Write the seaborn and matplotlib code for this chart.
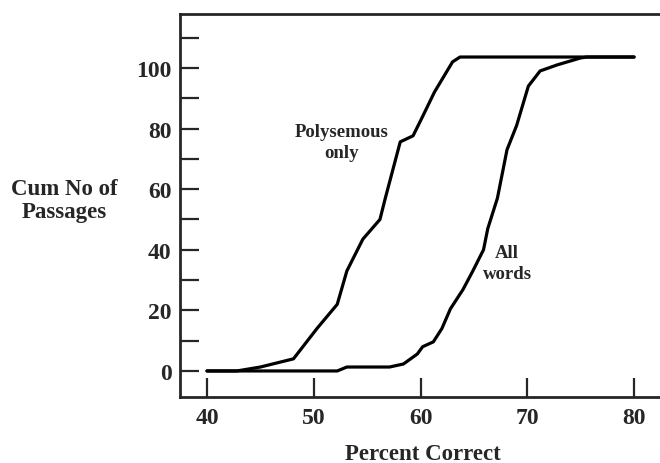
import matplotlib.pyplot as plt
import pandas as pd
import seaborn as sns
from matplotlib.ticker import MultipleLocator

sns.set_style("ticks")
plt.rcParams['font.family'] = ['Liberation Serif', 'DejaVu Serif']

# polysemous only curve (percent correct, cumulative no of passages)
poly_x = [40, 42.8, 45, 48.1, 50.3, 52.2, 53.1, 54.6, 56.2, 56.7, 58.1, 59.3, 60.2, 61.3, 63.0, 63.7, 80]
poly_y = [0, 0, 1.3, 4, 14, 22, 33, 43.5, 50, 57, 75.6, 77.6, 84, 92, 102, 103.6, 103.6]

# all words curve
all_x = [40, 52.2, 53.1, 57.1, 58.4, 59.7, 60.2, 61.2, 62.0, 62.8, 64.0, 64.9, 65.9, 66.3, 67.2,
         68.1, 69.0, 70.1, 71.2, 72.8, 75.0, 75.6, 80]
all_y = [0, 0, 1.3, 1.3, 2.3, 5.6, 8, 9.6, 14, 20.5, 27, 33, 40, 47, 57,
         73, 81, 94, 99, 101, 103.3, 103.6, 103.6]

df = pd.concat([
    pd.DataFrame({'pct': poly_x, 'cum': poly_y, 'curve': 'Polysemous only'}),
    pd.DataFrame({'pct': all_x, 'cum': all_y, 'curve': 'All words'}),
])

fig = plt.figure(figsize=(6.6, 4.64), dpi=100)
ax = fig.add_axes([0.2727, 0.1422, 0.7273, 0.8255])
sns.lineplot(data=df, x='pct', y='cum', units='curve', estimator=None, sort=False,
             color='black', linewidth=2.3, ax=ax)
for ln in ax.lines:
    ln.set_solid_joinstyle('round')

ax.set_xlim(37.47, 82.43)
ax.set_ylim(-8.6, 117.8)
ax.set_xticks([40, 50, 60, 70, 80])
ax.set_yticks([0, 20, 40, 60, 80, 100])
ax.yaxis.set_minor_locator(MultipleLocator(20, offset=10))
ax.spines['right'].set_visible(False)
for s in ['left', 'top', 'bottom']:
    ax.spines[s].set_linewidth(2)
ax.tick_params(which='both', direction='in', length=14, width=1.6, labelsize=17, pad=6)
ax.tick_params(axis='x', pad=7)
for lab in ax.get_xticklabels() + ax.get_yticklabels():
    lab.set_fontweight('bold')

ax.set_xlabel('')
ax.set_ylabel('')
fig.text(0.641, 0.02, 'Percent Correct', ha='center', va='center', fontsize=16.5, fontweight='bold')
fig.text(0.097, 0.567, 'Cum No of\nPassages', ha='center', va='center', fontsize=16.5,
         fontweight='bold', linespacing=1.15)
ax.text(52.6, 75.5, 'Polysemous\nonly', ha='center', va='center', fontsize=13.5,
        fontweight='bold', linespacing=1.3)
ax.text(68.1, 35.6, 'All\nwords', ha='center', va='center', fontsize=13.5,
        fontweight='bold', linespacing=1.3)

fig.savefig('out.png', dpi=100)
